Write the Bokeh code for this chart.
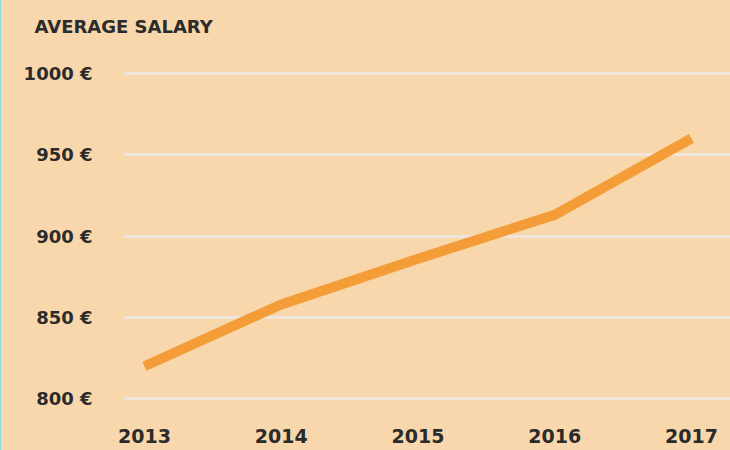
from bokeh.plotting import figure
from bokeh.models import FixedTicker, Range1d
from bokeh.embed import file_html
from bokeh.resources import INLINE

# data
years = [2013, 2014, 2015, 2016, 2017]
salary = [820, 858, 886, 913, 960]
y_ticks = [800, 850, 900, 950, 1000]
y_labels = ["800 €", "850 €", "900 €", "950 €", "1000 €"]
title_text = "AVERAGE SALARY"

BG = "#F9D7AC"
DARK = "#2B2B2B"
FONT = "DejaVu Sans"

p = figure(width=730, height=450, output_backend="svg", toolbar_location=None,
           x_range=Range1d(2012.8464, 2017.2925), y_range=Range1d(791.6, 1017.0),
           min_border_left=122, min_border_right=0, min_border_top=45, min_border_bottom=38)

p.title.text = title_text
p.title.text_font = FONT
p.title.text_font_style = "bold"
p.title.text_font_size = "18px"
p.title.text_color = DARK
p.title.align = "left"
p.title.offset = -89
p.title.standoff = 18

p.background_fill_color = None
p.border_fill_color = None
p.outline_line_color = None
p.styles = {"border-left": "1px solid #8FD6EA", "background-color": BG}

p.line(years, salary, line_color="#F39C38", line_width=10, line_join="miter")

# y axis
p.yaxis.ticker = FixedTicker(ticks=y_ticks)
p.yaxis.major_label_overrides = {t: l for t, l in zip(y_ticks, y_labels)}
p.yaxis.axis_line_color = None
p.yaxis.major_tick_line_color = None
p.yaxis.minor_tick_line_color = None
p.yaxis.major_label_standoff = 25
p.yaxis.major_label_text_font = FONT
p.yaxis.major_label_text_font_style = "bold"
p.yaxis.major_label_text_font_size = "18px"
p.yaxis.major_label_text_color = DARK

# x axis
p.xaxis.ticker = FixedTicker(ticks=years)
p.xaxis.major_label_overrides = {y: str(y) for y in years}
p.xaxis.axis_line_color = None
p.xaxis.major_tick_line_color = None
p.xaxis.minor_tick_line_color = None
p.xaxis.major_label_standoff = 10
p.xaxis.major_label_text_font = FONT
p.xaxis.major_label_text_font_style = "bold"
p.xaxis.major_label_text_font_size = "19px"
p.xaxis.major_label_text_color = DARK

p.xgrid.grid_line_color = None
p.ygrid.grid_line_color = "#EDE8E2"
p.ygrid.grid_line_width = 2.5

open("out.html", "w").write(file_html(p, INLINE))
